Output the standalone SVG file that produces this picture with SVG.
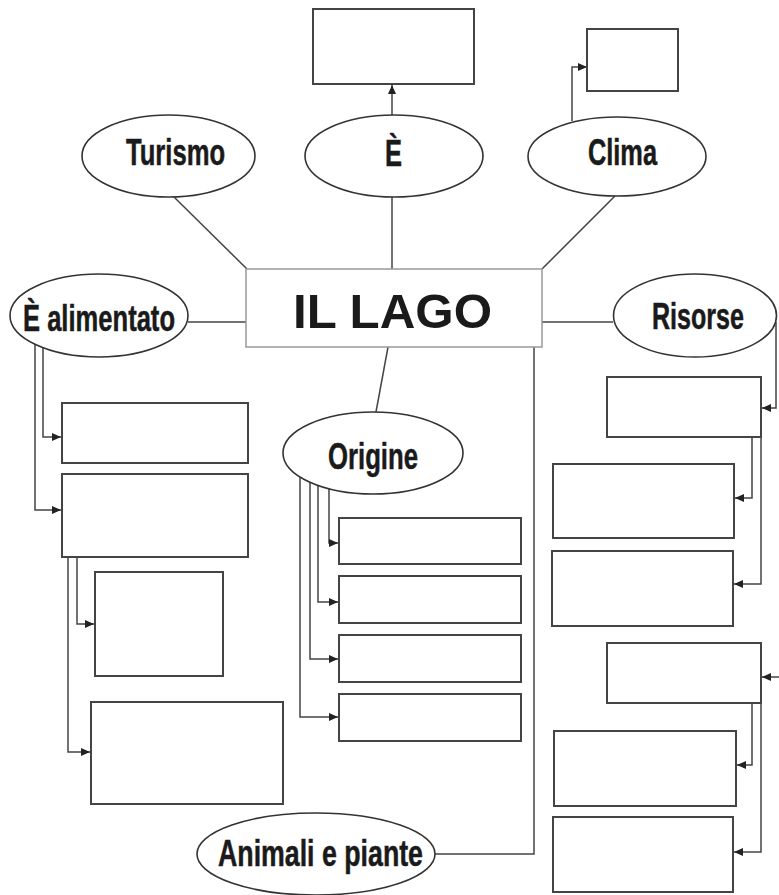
<svg xmlns="http://www.w3.org/2000/svg" width="779" height="895" viewBox="0 0 779 895">
<style>
.bx{fill:#fff;stroke:#444;stroke-width:2}
.el{fill:#fff;stroke:#333;stroke-width:1.6}
.ln{fill:none;stroke:#444;stroke-width:1.5}
.ar{marker-end:url(#ah)}
.lb{font-family:"Liberation Sans",Arial,sans-serif;font-weight:bold;font-size:36px;fill:#1a1a1a;stroke:#1a1a1a;stroke-width:0.5}
.mid{text-anchor:middle}
.main{fill:#fff;stroke:#999;stroke-width:1.5}
.mt{font-family:"Liberation Sans",Arial,sans-serif;font-weight:bold;font-size:49px;fill:#1a1a1a}
</style>
<defs>
<marker id="ah" markerUnits="userSpaceOnUse" markerWidth="9" markerHeight="8" refX="9" refY="4" orient="auto">
<path d="M0,0 L9,4 L0,8 z" fill="#222"/>
</marker>
</defs>
<rect width="779" height="895" fill="#fff"/>
<g id="connectors">
<path class="ln ar" d="M392,115 L392,85"/>
<path class="ln ar" d="M572,121 L572,67 L587,67"/>
<path class="ln" d="M174,197 L247,269"/>
<path class="ln" d="M392,197 L392,269"/>
<path class="ln" d="M615,196 L542,269"/>
<path class="ln" d="M188,322 L246,322"/>
<path class="ln" d="M542,322 L613,322"/>
<path class="ln" d="M388,347 L376,412"/>
<path class="ln" d="M534,347 L534,854 L435,854"/>
<path class="ln ar" d="M43,347 L43,437 L61,437"/>
<path class="ln ar" d="M35,343 L35,510 L61,510"/>
<path class="ln ar" d="M77,557 L77,624 L94,624"/>
<path class="ln ar" d="M68,557 L68,752 L90,752"/>
<path class="ln ar" d="M329,489 L329,543 L338,543"/>
<path class="ln ar" d="M318,485 L318,602 L338,602"/>
<path class="ln ar" d="M310,482 L310,659 L338,659"/>
<path class="ln ar" d="M300,477 L300,717 L338,717"/>
<path class="ln ar" d="M776,322 L776,408 L762,408"/>
<path class="ln ar" d="M752,437 L752,498 L735,498"/>
<path class="ln ar" d="M761,437 L761,584 L734,584"/>
<path class="ln ar" d="M779,677 L762,677"/>
<path class="ln ar" d="M752,703 L752,765 L737,765"/>
<path class="ln ar" d="M761,703 L761,852 L734,852"/>
</g>
<g id="il-lago"><rect class="main" x="246" y="269" width="296" height="78"/><text class="mt" x="293" y="328" textLength="199" lengthAdjust="spacingAndGlyphs">IL LAGO</text></g>
<g id="turismo"><ellipse class="el" cx="168.5" cy="156" rx="86.5" ry="41"/><text class="lb" x="126" y="165" textLength="99" lengthAdjust="spacingAndGlyphs">Turismo</text></g>
<g id="e"><ellipse class="el" cx="394" cy="156" rx="89" ry="41"/><text class="lb" x="385" y="166" textLength="17" lengthAdjust="spacingAndGlyphs">È</text></g>
<g id="clima"><ellipse class="el" cx="617" cy="156.5" rx="89" ry="39.5"/><text class="lb" x="588" y="165" textLength="69" lengthAdjust="spacingAndGlyphs">Clima</text></g>
<g id="e-alimentato"><ellipse class="el" cx="99" cy="315.5" rx="89" ry="41.5"/><text class="lb" x="23" y="331" textLength="152" lengthAdjust="spacingAndGlyphs">È alimentato</text></g>
<g id="risorse"><ellipse class="el" cx="695" cy="315.5" rx="81.5" ry="41.5"/><text class="lb mid" x="698" y="329" textLength="92" lengthAdjust="spacingAndGlyphs">Risorse</text></g>
<g id="origine"><ellipse class="el" cx="373" cy="453" rx="90" ry="41"/><text class="lb" x="328" y="469" textLength="90" lengthAdjust="spacingAndGlyphs">Origine</text></g>
<g id="animali"><ellipse class="el" cx="316" cy="854" rx="119" ry="41"/><text class="lb" x="218" y="866" textLength="205" lengthAdjust="spacingAndGlyphs">Animali e piante</text></g>
<g id="box-e"><rect class="bx" x="313" y="9" width="161" height="75"/></g>
<g id="box-clima"><rect class="bx" x="587" y="29" width="91" height="62"/></g>
<g id="box-a1"><rect class="bx" x="62" y="403" width="186" height="60"/></g>
<g id="box-a2"><rect class="bx" x="62" y="474" width="186" height="83"/></g>
<g id="box-a3"><rect class="bx" x="95" y="572" width="128" height="104"/></g>
<g id="box-a4"><rect class="bx" x="91" y="702" width="192" height="102"/></g>
<g id="box-o1"><rect class="bx" x="339" y="518" width="182" height="46"/></g>
<g id="box-o2"><rect class="bx" x="339" y="576" width="182" height="47"/></g>
<g id="box-o3"><rect class="bx" x="339" y="635" width="182" height="47"/></g>
<g id="box-o4"><rect class="bx" x="339" y="694" width="182" height="47"/></g>
<g id="box-r1"><rect class="bx" x="607" y="377" width="154" height="60"/></g>
<g id="box-r2"><rect class="bx" x="553" y="464" width="181" height="74"/></g>
<g id="box-r3"><rect class="bx" x="552" y="551" width="181" height="75"/></g>
<g id="box-r4"><rect class="bx" x="607" y="643" width="154" height="60"/></g>
<g id="box-r5"><rect class="bx" x="554" y="731" width="182" height="75"/></g>
<g id="box-r6"><rect class="bx" x="553" y="817" width="180" height="75"/></g>
</svg>
